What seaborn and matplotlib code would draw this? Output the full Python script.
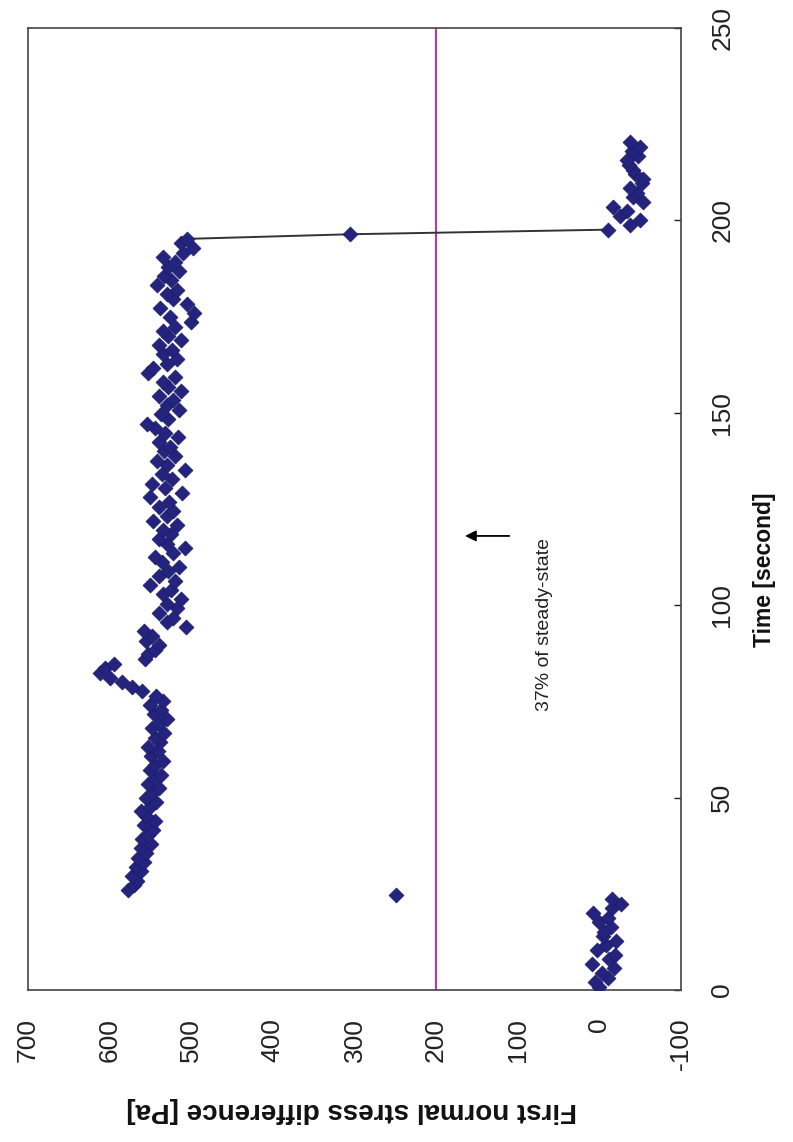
import numpy as np
import pandas as pd
import matplotlib
matplotlib.use("Agg")
import matplotlib.pyplot as plt
import seaborn as sns

# ---------------- data ----------------
time_initial = [0.8, 2.0, 3.2, 4.4, 5.6, 6.8, 8.0, 9.2, 10.4, 11.6,
                12.8, 14.0, 15.2, 16.4, 17.6, 18.8, 20.0, 21.2, 22.4, 23.6]
n1_initial = [0, 5, -10, -3, -18, 9, -12, -19, 3, -8,
              -20, -4, -6, -14, 0, -10, 8, -16, -26, -15]

time_rise = [24.8]
n1_rise = [249]

time_steady = [26.0, 27.2, 28.4, 29.6, 30.8, 32.0, 33.2, 34.4, 35.6, 36.8,
               38.0, 39.2, 40.4, 41.6, 42.8, 44.0, 45.2, 46.4, 47.6, 48.8,
               50.0, 51.2, 52.4, 53.6, 54.8, 56.0, 57.2, 58.4, 59.6, 60.8,
               62.0, 63.2, 64.4, 65.6, 66.8, 68.0, 69.2, 70.4, 71.6, 72.8,
               74.0, 75.2, 76.4, 77.6, 78.8, 80.0, 81.2, 82.4, 83.6, 84.8,
               86.0, 87.2, 88.4, 89.6, 90.8, 92.0, 93.2, 94.4, 95.6, 96.8,
               98.0, 99.2, 100.4, 101.6, 102.8, 104.0, 105.2, 106.4, 107.6, 108.8,
               110.0, 111.2, 112.4, 113.6, 114.8, 116.0, 117.2, 118.4, 119.6, 120.8,
               122.0, 123.2, 124.4, 125.6, 126.8, 128.0, 129.2, 130.4, 131.6, 132.8,
               134.0, 135.2, 136.4, 137.6, 138.8, 140.0, 141.2, 142.4, 143.6, 144.8,
               146.0, 147.2, 148.4, 149.6, 150.8, 152.0, 153.2, 154.4, 155.6, 156.8,
               158.0, 159.2, 160.4, 161.6, 162.8, 164.0, 165.2, 166.4, 167.6, 168.8,
               170.0, 171.2, 172.4, 173.6, 174.8, 176.0, 177.2, 178.4, 179.6, 180.8,
               182.0, 183.2, 184.4, 185.6, 186.8, 188.0, 189.2, 190.4, 191.6, 192.8,
               194.0, 195.2]
n1_steady = [578, 570, 566, 572, 561, 568, 558, 565,
             556, 562, 549, 560, 553, 547, 558, 545, 555, 562, 550, 543, 556,
             548, 540, 553, 545, 537, 550, 544, 535, 549, 541, 553, 538,
             545, 533, 548, 539, 530, 546, 537, 551, 534, 543,
             560, 572, 585, 600, 612, 606, 595,
             557, 553, 545, 540, 556, 548, 558, 506, 530, 522, 540, 518, 530, 512,
             535, 525, 550, 520, 540,
             528, 515, 536, 545, 522, 508, 530, 540, 525, 535, 518, 547, 530, 522,
             540, 527, 550, 511, 532, 548, 524, 536, 508, 530, 542, 520, 533, 526,
             540, 516, 532, 545, 554, 528, 537, 515, 530, 522, 539, 512, 528, 535,
             520, 553, 547, 530, 518, 535, 524, 540, 512, 528, 534, 520, 500, 526,
             497, 538, 505, 522, 530, 518, 542, 525, 533, 515, 528, 520, 535, 510,
             498, 512, 505]

time_drop = [196.4]
n1_drop = [305]

time_relax = [197.6, 198.8, 200.0, 201.2, 202.4, 203.6, 204.8, 206.0, 207.2, 208.4,
              209.6, 210.8, 212.0, 213.2, 214.4, 215.6, 216.8, 218.0, 219.2, 220.4]
n1_relax = [-11, -38, -50, -25, -34, -17, -54, -41, -46, -38,
            -52, -54, -44, -41, -36, -34, -47, -40, -50, -38]

# connecting segment (cessation of flow)
time_line = [195.2, 196.4, 197.6]
n1_line = [505, 305, -11]

steady_ref = 200           # 37 % of steady state
n1_ticks = [700, 600, 500, 400, 300, 200, 100, 0, -100]
time_ticks = [0, 50, 100, 150, 200, 250]

# ---------------- plot ----------------
sns.set_style("white")
plt.rcParams["font.family"] = ["Liberation Sans", "DejaVu Sans"]
plt.rcParams["axes.unicode_minus"] = False

W, H = 793, 1142
fig = plt.figure(figsize=(W / 100, H / 100), dpi=100)
L, R, T, B = 28, 681, 28, 990
ax = fig.add_axes([L / W, 1 - B / H, (R - L) / W, (B - T) / H])

df = pd.DataFrame({
    "time": time_initial + time_rise + time_steady + time_drop + time_relax,
    "n1": n1_initial + n1_rise + n1_steady + n1_drop + n1_relax,
})

ax.axvline(steady_ref, color="#c4359d", lw=1.5, zorder=1)
sns.lineplot(x=n1_line, y=time_line, sort=False, estimator=None,
             color="#333333", lw=1.4, ax=ax, zorder=2)
sns.scatterplot(data=df, x="n1", y="time", marker="D", s=58,
                color="#24247f", edgecolor="#1b1b68", linewidth=0.5,
                ax=ax, zorder=3, legend=False)

ax.set_xlim(700, -100)
ax.set_ylim(0, 250)
ax.set_xticks(n1_ticks)
ax.set_yticks(time_ticks)
ax.set_xticklabels([str(v) for v in n1_ticks])
ax.set_yticklabels([str(v) for v in time_ticks])
ax.yaxis.tick_right()
ax.set_xlabel("")
ax.set_ylabel("")

ax.tick_params(axis="x", direction="in", length=6, width=1, pad=20,
               labelrotation=90, labelsize=19, colors="#222222")
ax.tick_params(axis="y", direction="in", length=5, width=1, pad=21,
               labelrotation=90, labelsize=19, colors="#222222")
for lab in ax.get_yticklabels():
    lab.set_va("center")
    lab.set_ha("left")
for lab in ax.get_xticklabels():
    lab.set_ha("center")
    lab.set_va("top")

for sp in ax.spines.values():
    sp.set_visible(True)
    sp.set_color("#444444")
    sp.set_linewidth(1.2)

# annotation
ax.annotate("", xy=(168, 118), xytext=(107, 118),
            arrowprops=dict(arrowstyle="-|>", color="black", lw=1.3,
                            mutation_scale=16))
ax.text(67, 95, "37% of steady-state", rotation=90, ha="center", va="center",
        fontsize=14, color="#222222")

# axis titles
fig.text(352 / W, 1 - 1110 / H, "First normal stress difference [Pa]",
         rotation=180, ha="center", va="center", fontsize=20,
         fontweight="bold", color="#111111")
fig.text(764 / W, 1 - 570 / H, "Time [second]", rotation=90,
         ha="center", va="center", fontsize=16.5, fontweight="bold",
         color="#111111")

fig.savefig("out.png", dpi=100, facecolor="white")
